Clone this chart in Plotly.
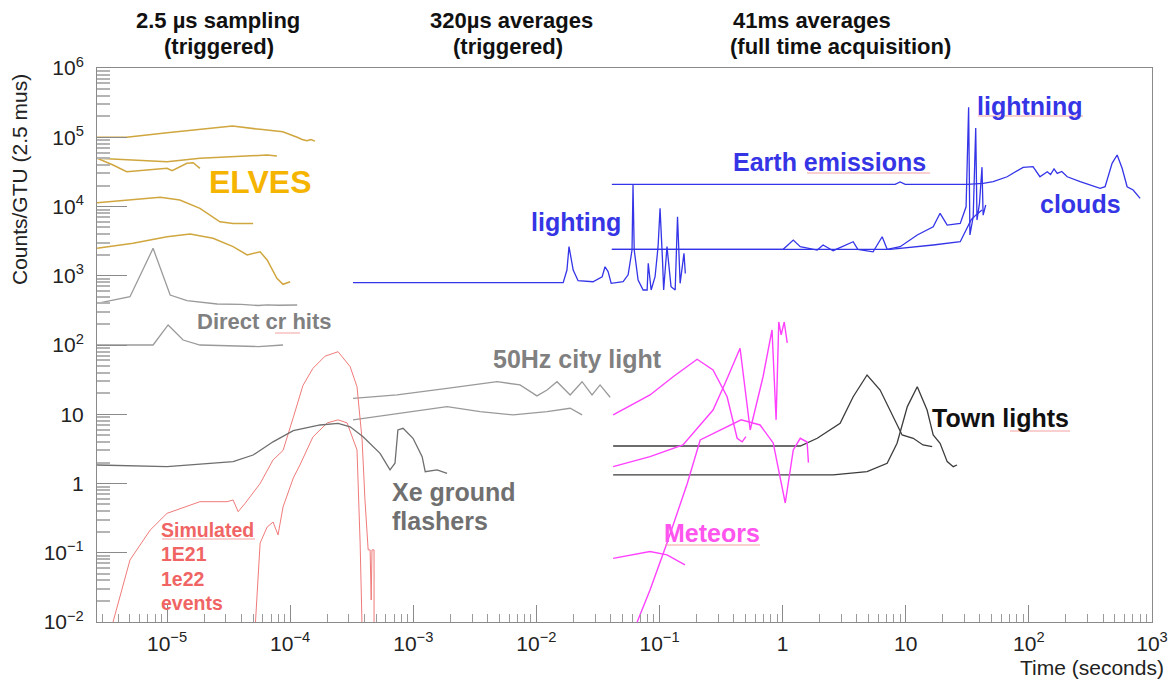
import plotly.graph_objects as go

# ---------------- data (time in seconds, counts per GTU) ----------------
elves1_t = [2.7e-6, 4.7e-6, 1.0e-5, 1.85e-5, 3.4e-5, 5.7e-5, 8.7e-5, 1.14e-4, 1.25e-4, 1.37e-4, 1.47e-4, 1.59e-4]
elves1_c = [1.0e5, 1.0e5, 1.16e5, 1.3e5, 1.45e5, 1.3e5, 1.2e5, 1.0e5, 9.3e4, 8.9e4, 9.3e4, 8.8e4]
elves2_t = [2.7e-6, 4.7e-6, 1.0e-5, 1.85e-5, 3.4e-5, 6.5e-5, 7.8e-5]
elves2_c = [4.97e4, 4.7e4, 4.44e4, 4.97e4, 5.24e4, 5.54e4, 5.36e4]
elves3_t = [2.7e-6, 3.64e-6, 4.7e-6, 7.3e-6, 1.0e-5, 1.1e-5, 1.27e-5, 1.45e-5, 1.63e-5, 1.85e-5]
elves3_c = [4.97e4, 3.97e4, 3.18e4, 3.37e4, 3.56e4, 3.29e4, 3.76e4, 4.2e4, 4.29e4, 3.56e4]
elves4_t = [2.7e-6, 5.3e-6, 8.8e-6, 1.27e-5, 1.85e-5, 2.69e-5, 3.44e-5, 5.0e-5]
elves4_c = [1.13e4, 1.24e4, 1.36e4, 1.24e4, 9.4e3, 6.0e3, 5.7e3, 5.7e3]
elves5_t = [2.7e-6, 5.3e-6, 1.0e-5, 1.54e-5, 2.36e-5, 3.44e-5, 4.47e-5, 5.7e-5, 6.5e-5, 7.8e-5, 8.75e-5, 1.0e-4]
elves5_c = [2.49e3, 2.94e3, 3.66e3, 4.0e3, 3.47e3, 2.63e3, 2.0e3, 2.22e3, 1.69e3, 919, 753, 820]

cr1_t = [2.7e-6, 5.0e-6, 7.7e-6, 1.06e-5, 1.45e-5, 2.55e-5, 4.0e-5, 5.5e-5, 6.5e-5, 8.0e-5, 1.14e-4]
cr1_c = [400, 499, 2490, 527, 436, 391, 385, 372, 380, 375, 378]
cr2_t = [2.7e-6, 7.7e-6, 1.02e-5, 1.35e-5, 1.85e-5, 3.44e-5, 5.5e-5, 8.75e-5]
cr2_c = [100, 100, 195, 118, 100, 97, 95, 100]

xe_t = [2.7e-6, 1.0e-5, 3.44e-5, 5.0e-5, 7.26e-5, 1.06e-4, 1.75e-4, 2.45e-4, 3.07e-4, 3.91e-4,
        5.37e-4, 6.47e-4, 7.1e-4, 7.5e-4, 8.26e-4, 9.95e-4, 1.18e-3, 1.25e-3, 1.56e-3, 1.88e-3]
xe_c = [1.85, 1.75, 2.07, 2.58, 4.0, 5.8, 7.0, 7.4, 6.6, 4.74,
        2.73, 1.57, 1.96, 5.93, 6.27, 4.5, 2.44, 1.48, 1.57, 1.4]

city1_t = [3.24e-4, 7.38e-4, 1.88e-3, 4.8e-3, 7.36e-3, 1.01e-2, 1.22e-2, 1.47e-2, 1.88e-2, 2.35e-2, 2.83e-2, 3.29e-2, 3.97e-2]
city1_c = [17, 19, 23.7, 29.5, 26.5, 18.4, 22.4, 29.5, 19, 29.5, 19, 26.5, 17.6]
city2_t = [3.24e-4, 9.95e-4, 1.88e-3, 3.49e-3, 6.47e-3, 1.22e-2, 1.88e-2, 2.35e-2]
city2_c = [8.3, 10.9, 12.9, 10.9, 9.8, 10.9, 12.2, 9.8]

sim1_t = [3.64e-6, 5.0e-6, 7.3e-6, 1.0e-5, 1.85e-5, 3.07e-5, 3.44e-5, 3.78e-5, 4.31e-5, 5.7e-5, 7.26e-5,
          8.75e-5, 1.06e-4, 1.27e-4, 1.53e-4, 1.92e-4, 2.45e-4, 3.07e-4, 3.49e-4, 3.84e-4, 4.05e-4,
          4.3e-4, 4.46e-4, 4.55e-4, 4.62e-4, 4.8e-4, 4.8e-4]
sim1_c = [0.01, 0.0787, 0.213, 0.371, 0.546, 0.546, 0.578, 0.392, 0.518, 1.0, 2.19,
          3.0, 9.0, 26.0, 46.0, 69.0, 80.0, 48.6, 25.0, 4.25, 0.58,
          0.11, 0.11, 0.0208, 0.11, 0.11, 0.008]
sim2_t = [5.19e-5, 5.7e-5, 6.5e-5, 7.26e-5, 7.97e-5, 8.75e-5, 1.06e-4, 1.2e-4, 1.53e-4, 2.0e-4, 2.45e-4,
          2.9e-4, 3.49e-4, 3.7e-4, 3.84e-4]
sim2_c = [0.008, 0.138, 0.235, 0.278, 0.181, 0.458, 1.2, 1.85, 4.7, 7.5, 8.3,
          7.5, 3.05, 0.138, 0.008]

light320_t = [3.24e-4, 1.65e-2, 1.77e-2, 1.84e-2, 1.99e-2, 2.18e-2, 2.88e-2, 3.42e-2, 3.61e-2, 3.82e-2,
              4.05e-2, 5.06e-2, 5.56e-2, 5.98e-2, 6.09e-2, 6.23e-2, 6.7e-2, 7.36e-2, 7.93e-2, 8.1e-2,
              8.55e-2, 9.2e-2, 9.73e-2, 0.101, 0.106, 0.108, 0.115, 0.124, 0.134, 0.140,
              0.147, 0.158, 0.162]
light320_c = [794, 794, 1210, 2630, 1210, 849, 820, 969, 1350, 1150,
              778, 820, 1030, 2350, 2.05e4, 2350, 869, 623, 623, 1510,
              623, 969, 2630, 9400, 1510, 623, 2630, 695, 623, 7100,
              778, 2110, 1080]

earth1_t = [0.041, 8.2, 9.0, 9.9, 31.5, 42.5, 51.3, 66.6, 89.8, 108, 123, 141, 150, 160, 170, 185,
            205, 261, 379, 416, 474, 521, 572, 628, 703, 801]
earth1_c = [2.09e4, 2.09e4, 2.26e4, 2.09e4, 2.09e4, 2.16e4, 2.28e4, 2.69e4, 3.68e4, 3.76e4, 2.69e4, 3.18e4,
            2.9e4, 3.5e4, 3.0e4, 3.2e4, 2.69e4, 2.28e4, 1.83e4, 1.93e4, 4.2e4, 5.54e4, 3.56e4, 1.93e4, 1.73e4, 1.31e4]
earth2_t = [0.041, 1.01, 1.22, 1.39, 1.91, 2.13, 2.57, 3.74, 4.08, 5.43, 6.43, 7.06, 9.0, 12.4, 16.7, 19.0,
            21.7, 27.7, 30.9, 32.4, 33.2, 35.3, 37.0, 37.9, 39.7, 41.6, 42.5, 44.6]
earth2_c = [2.41e3, 2.41e3, 3.28e3, 2.63e3, 2.35e3, 2.78e3, 2.3e3, 3.1e3, 2.41e3, 2.22e3, 3.66e3, 2.41e3,
            2.63e3, 3.88e3, 5.1e3, 7.98e3, 5.4e3, 5.7e3, 9.9e3, 2.7e5, 3.88e3, 7.1e3, 1.36e5, 6.4e3,
            1.11e4, 3.7e4, 7.5e3, 1.05e4]
earth3_t = [0.041, 7.46, 16.7, 27.7, 30.9, 33.9, 37.0, 41.6]
earth3_c = [2.41e3, 2.41e3, 2.78e3, 3.1e3, 4.58e3, 6.4e3, 7.5e3, 8.9e3]

town1_t = [0.042, 1.39, 1.91, 2.93, 3.74, 4.85, 6.19, 7.89, 9.34, 11.5, 13.8, 16.4]
town1_c = [3.48, 3.48, 4.5, 7.4, 17.9, 36.9, 22.4, 9.2, 5.02, 4.5, 3.6, 3.4]
town2_t = [0.042, 2.57, 4.85, 7.06, 8.5, 10.3, 12.4, 14.9, 16.7, 19.0, 21.7, 24.3, 26.1]
town2_c = [1.33, 1.33, 1.48, 1.96, 3.81, 12.9, 25.0, 11.5, 5.02, 3.81, 2.07, 1.75, 1.85]

met1_t = [0.042, 0.0837, 0.129, 0.202, 0.272, 0.354, 0.427, 0.469, 0.503]
met1_c = [9.8, 19, 34.8, 62.2, 43.5, 17.9, 4.5, 4.0, 4.74]
met2_t = [0.042, 0.0837, 0.155, 0.272, 0.341, 0.451, 0.545, 0.693, 0.82, 0.885, 0.93, 0.973, 1.03, 1.09]
met2_c = [1.75, 2.44, 3.6, 11.5, 28, 89.6, 5.93, 34.8, 165, 8.3, 215, 140, 215, 107]
met3_t = [0.0658, 0.0837, 0.115, 0.168, 0.214, 0.258, 0.46, 0.656, 0.838, 1.05, 1.22, 1.39, 1.58, 1.62]
met3_c = [0.01, 0.029, 0.138, 1.0, 4.25, 5.02, 8.3, 7.0, 3.85, 0.523, 3.05, 4.5, 3.97, 2.0]
met4_t = [0.042, 0.0837, 0.115, 0.161]
met4_c = [0.083, 0.104, 0.093, 0.0666]

# tick labels
x_tickvals = [1e-5, 1e-4, 1e-3, 1e-2, 1e-1, 1, 10, 100, 1000]
x_ticktext = ["10<sup>−5</sup>", "10<sup>−4</sup>", "10<sup>−3</sup>", "10<sup>−2</sup>", "10<sup>−1</sup>",
              "1", "10", "10<sup>2</sup>", "10<sup>3</sup>"]
y_tickvals = [1e-2, 1e-1, 1, 10, 100, 1e3, 1e4, 1e5, 1e6]
y_ticktext = ["10<sup>−2</sup>", "10<sup>−1</sup>", "1", "10", "10<sup>2</sup>", "10<sup>3</sup>",
              "10<sup>4</sup>", "10<sup>5</sup>", "10<sup>6</sup>"]

# ---------------- styling ----------------
FONT = "Liberation Sans, Arial, Helvetica, sans-serif"
W, H = 1172, 684
ML, MR, MT, MB = 97, 20, 68, 62

C_ELVES = "#d0a63e"
C_GRAY = "#9a9a9a"
C_XE = "#6e6e6e"
C_RED = "#f07a7a"
C_BLUE = "#3434e8"
C_TOWN = "#3c3c3c"
C_MAG = "#ff40ff"

fig = go.Figure()


def add(t, c, color, width=1.3):
    fig.add_trace(go.Scatter(x=t, y=c, mode="lines", line=dict(color=color, width=width),
                             showlegend=False, hoverinfo="skip"))


for t, c in [(elves1_t, elves1_c), (elves2_t, elves2_c), (elves3_t, elves3_c),
             (elves4_t, elves4_c), (elves5_t, elves5_c)]:
    add(t, c, C_ELVES, 1.5)
add(cr1_t, cr1_c, C_GRAY)
add(cr2_t, cr2_c, C_GRAY)
add(city1_t, city1_c, C_GRAY)
add(city2_t, city2_c, C_GRAY)
add(sim1_t, sim1_c, C_RED, 1.0)
add(sim2_t, sim2_c, C_RED, 1.0)
add(xe_t, xe_c, C_XE)
add(light320_t, light320_c, C_BLUE)
add(earth1_t, earth1_c, C_BLUE)
add(earth2_t, earth2_c, C_BLUE)
add(earth3_t, earth3_c, C_BLUE)
add(town1_t, town1_c, C_TOWN)
add(town2_t, town2_c, C_TOWN)
for t, c in [(met1_t, met1_c), (met2_t, met2_c), (met3_t, met3_c), (met4_t, met4_c)]:
    add(t, c, C_MAG, 1.4)

x_minor = [m * 10.0 ** e for e in range(-6, 3) for m in range(2, 10) if m * 10.0 ** e > 2.7e-6]
y_minor = [m * 10.0 ** e for e in range(-2, 6) for m in range(2, 10)]


def paper(px, py):
    return (px - ML) / (W - ML - MR), (H - MB - py) / (H - MT - MB)


labels = [
    # text, px, py, size, color, xanchor, bold
    ("2.5 µs sampling", 218, 21, 22, "#111", "center", True),
    ("(triggered)", 219, 47, 22, "#111", "center", True),
    ("320µs averages", 511, 21, 22, "#111", "center", True),
    ("(triggered)", 508, 47, 22, "#111", "center", True),
    ("41ms averages", 812, 21, 22, "#111", "center", True),
    ("(full time acquisition)", 840, 47, 22, "#111", "center", True),
    ("ELVES", 207, 182, 32, "#f5b400", "left", True),
    ("Direct cr hits", 195, 321, 22, "#808080", "left", True),
    ("50Hz city light", 491, 359, 25, "#808080", "left", True),
    ("Xe ground", 390, 492, 25, "#707070", "left", True),
    ("flashers", 390, 521, 25, "#707070", "left", True),
    ("Simulated", 159, 530, 19.5, "#f06464", "left", True),
    ("1E21", 159, 554, 19.5, "#f06464", "left", True),
    ("1e22", 159, 579, 19.5, "#f06464", "left", True),
    ("events", 159, 603, 19.5, "#f06464", "left", True),
    ("lighting", 529, 222, 25, "#3535e6", "left", True),
    ("Earth emissions", 731, 162, 25, "#3535e6", "left", True),
    ("lightning", 975, 106, 25, "#3535e6", "left", True),
    ("clouds", 1038, 204, 25, "#3535e6", "left", True),
    ("Town lights", 930, 418, 25, "#111111", "left", True),
    ("Meteors", 662, 533, 25, "#ff55ee", "left", True),
    ("Time (seconds)", 1166, 667, 21, "#222", "right", False),
]

annotations = []
for text, px, py, size, color, xa, bold in labels:
    xp, yp = paper(px, py)
    annotations.append(dict(
        text=f"<b>{text}</b>" if bold else text, x=xp, y=yp, xref="paper", yref="paper",
        xanchor=xa, yanchor="middle", showarrow=False,
        font=dict(family=FONT, size=size, color=color)))

yt_x, yt_y = paper(19, 180)
annotations.append(dict(text="Counts/GTU (2.5 mus)", x=yt_x, y=yt_y, xref="paper", yref="paper",
                        xanchor="center", yanchor="middle", textangle=-90, showarrow=False,
                        font=dict(family=FONT, size=21, color="#222")))

# spell-check style underlines present in the reference slide
underlines = [(275, 300, 333), (162, 255, 539), (807, 930, 173), (978, 1083, 116),
              (1010, 1070, 431), (665, 760, 545)]
shapes = []
for x0, x1, yy in underlines:
    a0, b0 = paper(x0, yy)
    a1, _ = paper(x1, yy)
    shapes.append(dict(type="line", xref="paper", yref="paper", x0=a0, x1=a1, y0=b0, y1=b0,
                       line=dict(color="#f3a0a0", width=1)))

fig.update_layout(
    width=W, height=H,
    margin=dict(l=ML, r=MR, t=MT, b=MB, pad=0, autoexpand=False),
    paper_bgcolor="white", plot_bgcolor="white",
    font=dict(family=FONT, size=21, color="#222"),
    showlegend=False,
    annotations=annotations,
    shapes=shapes,
    xaxis=dict(type="log", range=[-5.569, 3], showgrid=False, zeroline=False, automargin=False,
               showline=True, linecolor="#8a8a8a", linewidth=1, mirror=True,
               ticks="inside", ticklen=17, tickwidth=1, tickcolor="#8a8a8a",
               ticklabelstandoff=3,
               tickmode="array", tickvals=x_tickvals, ticktext=x_ticktext,
               tickfont=dict(family=FONT, size=21, color="#222"),
               minor=dict(ticks="inside", ticklen=8, tickwidth=1, tickcolor="#9a9a9a",
                          tickmode="array", tickvals=x_minor, showgrid=False)),
    yaxis=dict(type="log", range=[-2, 6], showgrid=False, zeroline=False, automargin=False,
               showline=True, linecolor="#8a8a8a", linewidth=1, mirror=True,
               ticks="inside", ticklen=30, tickwidth=1.2, tickcolor="#8a8a8a",
               ticklabelstandoff=8,
               tickmode="array", tickvals=y_tickvals, ticktext=y_ticktext,
               tickfont=dict(family=FONT, size=21, color="#222"),
               minor=dict(ticks="inside", ticklen=13, tickwidth=1.5, tickcolor="#b4b4b4",
                          tickmode="array", tickvals=y_minor, showgrid=False)),
)

fig.write_html("out.html", config={"displayModeBar": False},
               post_script="document.body.style.margin='0';document.body.style.overflow='hidden';")
